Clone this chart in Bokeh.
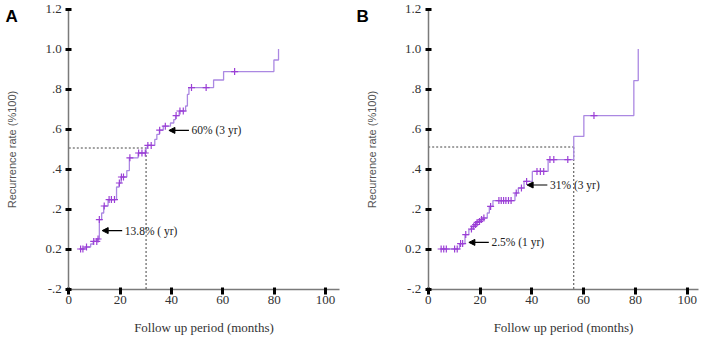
import numpy as np
from bokeh.plotting import figure
from bokeh.layouts import row
from bokeh.models import Range1d, FixedTicker, Arrow, NormalHead, Label
from bokeh.embed import file_html
from bokeh.resources import INLINE

# ---- Panel A: recurrence curve (step times in months, cumulative level)
a_step_t = [4.3, 6.3, 8.5, 9.5, 11.0, 11.9, 12.8, 13.6, 15.3, 18.6, 19.6, 20.4,
            22.6, 23.6, 27.0, 30.1, 30.6, 33.5, 34.3, 35.3, 36.8, 39.6, 40.9,
            41.6, 43.0, 45.5, 46.2, 46.8, 56.4, 60.3, 79.9, 81.7]
a_step_v = [0.0, 0.01, 0.025, 0.038, 0.05, 0.147, 0.18, 0.215, 0.247, 0.31, 0.33,
            0.36, 0.392, 0.456, 0.48, 0.506, 0.518, 0.548, 0.573, 0.594, 0.614,
            0.63, 0.647, 0.667, 0.69, 0.715, 0.773, 0.807, 0.845, 0.887, 0.945, 1.0]
a_censor_t = [4.6, 5.5, 6.9, 9.7, 10.9, 11.4, 11.9, 13.8, 15.7, 16.6, 17.8, 19.7,
              20.5, 21.3, 23.8, 27.2, 28.5, 29.8, 30.8, 32.1, 35.4, 37.6, 41.8,
              43.3, 44.6, 47.8, 53.5, 64.6]
a_median = (30.1, 0.505)

# ---- Panel B
b_step_t = [4.8, 12.1, 14.2, 15.7, 16.3, 17.3, 18.0, 18.6, 19.5, 20.2, 21.0, 22.8,
            23.6, 25.0, 33.5, 34.8, 37.0, 40.2, 46.3, 56.2, 60.1, 79.4, 81.1]
b_step_v = [0.0, 0.027, 0.072, 0.097, 0.1, 0.113, 0.122, 0.133, 0.138, 0.147,
            0.155, 0.18, 0.213, 0.242, 0.28, 0.305, 0.338, 0.388, 0.447, 0.563,
            0.667, 0.842, 1.0]
b_censor_t = [5.0, 6.0, 7.0, 10.2, 11.2, 12.5, 13.3, 14.5, 16.7, 17.6, 18.3, 18.9,
              19.8, 20.6, 21.5, 24.1, 27.3, 28.2, 29.1, 30.0, 31.0, 32.0, 34.0,
              36.0, 38.0, 42.0, 43.3, 44.6, 47.0, 48.5, 53.9, 64.0]
b_median = (56.2, 0.51)

# annotation: (text, arrow tip x, tip y, tail x)
a_notes = [("13.8% ( yr)", 13.0, 0.092, 20.8), ("60% (3 yr)", 39.0, 0.593, 46.8)]
b_notes = [("2.5% (1 yr)", 15.7, 0.033, 23.4), ("31% (3 yr)", 38.2, 0.32, 46.0)]

y_ticks = [-0.2, 0.0, 0.2, 0.4, 0.6, 0.8, 1.0, 1.2]
y_tick_labels = ["-.2", "0.2", ".2", ".4", ".6", ".8", "1.0", "1.2"]
x_ticks = [0, 20, 40, 60, 80, 100]

LINE = "#ab88e2"
CENSOR = "#9b3fd6"
SERIF = "Liberation Serif"
SANS = "Liberation Sans"

HEIGHT = 337
Y_PX = 200.0          # pixels per unit on the y scale
Y_TOP_PX = 8.5        # pixel row of y = 1.2
Y_MIN, Y_MAX = -0.2, 1.2


def level_at(step_t, step_v, t):
    idx = np.searchsorted(np.array(step_t), np.array(t), side="right") - 1
    return [step_v[max(i, 0)] for i in idx]


def panel(letter, step_t, step_v, censor_t, median, notes, width, left, xpx, xmax):
    # the plot frame fills the whole canvas; axes sit at fixed data locations
    x0 = -left / xpx
    x1 = (width - left) / xpx
    y1 = Y_MAX + Y_TOP_PX / Y_PX
    y0 = y1 - HEIGHT / Y_PX
    p = figure(width=width, height=HEIGHT, output_backend="svg", toolbar_location=None,
               x_range=Range1d(x0, x1), y_range=Range1d(y0, y1),
               min_border=0)
    p.outline_line_color = None
    p.xgrid.visible = False
    p.ygrid.visible = False
    p.background_fill_color = "white"
    p.border_fill_color = "white"

    for ax in (p.xaxis[0], p.yaxis[0]):
        ax.axis_line_color = "#7a7a7a"
        ax.axis_line_width = 1.5
        ax.major_tick_line_color = "black"
        ax.major_tick_line_width = 3
        ax.minor_tick_line_color = None
        ax.major_label_text_font = SERIF
        ax.major_label_text_font_size = "13px"
        ax.major_label_text_color = "#333333"

    xa = p.xaxis[0]
    xa.fixed_location = Y_MIN
    xa.bounds = (0, xmax)
    xa.ticker = FixedTicker(ticks=x_ticks)
    xa.major_tick_in = 2
    xa.major_tick_out = 5
    xa.major_label_standoff = 2
    xa.axis_label = "Follow up period (months)"
    xa.axis_label_text_font = SERIF
    xa.axis_label_text_font_style = "normal"
    xa.axis_label_text_font_size = "13px"
    xa.axis_label_text_color = "#333333"
    xa.axis_label_standoff = 12

    ya = p.yaxis[0]
    ya.fixed_location = 0
    ya.bounds = (Y_MIN, Y_MAX)
    ya.ticker = FixedTicker(ticks=y_ticks)
    ya.major_label_overrides = dict(zip(y_ticks, y_tick_labels))
    ya.major_tick_in = 3
    ya.major_tick_out = 3
    ya.major_label_standoff = 4
    ya.axis_label = "Recurrence rate (%100)"
    ya.axis_label_text_font = SANS
    ya.axis_label_text_font_style = "normal"
    ya.axis_label_text_font_size = "11px"
    ya.axis_label_text_color = "#555555"
    ya.axis_label_standoff = 24

    # median reference lines
    mx, my = median
    p.line([0, mx], [my, my], line_color="#444444", line_dash="2 2", line_width=1)
    p.line([mx, mx], [Y_MIN, my], line_color="#444444", line_dash="2 2", line_width=1)

    # step curve with censor marks
    p.step(step_t, step_v, mode="after", line_color=LINE, line_width=1.3)
    cy = level_at(step_t, step_v, censor_t)
    p.scatter(censor_t, cy, marker="cross", size=7, line_color=CENSOR, line_width=1.2)

    for text, tx, ty, tail in notes:
        p.add_layout(Arrow(end=NormalHead(size=6, fill_color="black", line_color="black"),
                           x_start=tail, y_start=ty, x_end=tx, y_end=ty,
                           line_color="black", line_width=1.2))
        p.add_layout(Label(x=tail + 1.0, y=ty, text=text, text_font=SERIF,
                           text_font_size="11.5px", text_baseline="middle",
                           text_color="#222222"))

    # panel letter in the top-left corner
    p.add_layout(Label(x=x0 + 5 / xpx, y=y1 - 6 / Y_PX, text=letter, text_font=SANS,
                       text_font_style="bold", text_font_size="17px",
                       text_baseline="top", text_color="black"))
    return p


pa = panel("A", a_step_t, a_step_v, a_censor_t, a_median, a_notes, 351, 68.3, 2.567, 105.4)
pb = panel("B", b_step_t, b_step_v, b_censor_t, b_median, b_notes, 352, 76.7, 2.59, 104.4)

layout = row(pa, pb)
open("out.html", "w").write(file_html(layout, INLINE))
